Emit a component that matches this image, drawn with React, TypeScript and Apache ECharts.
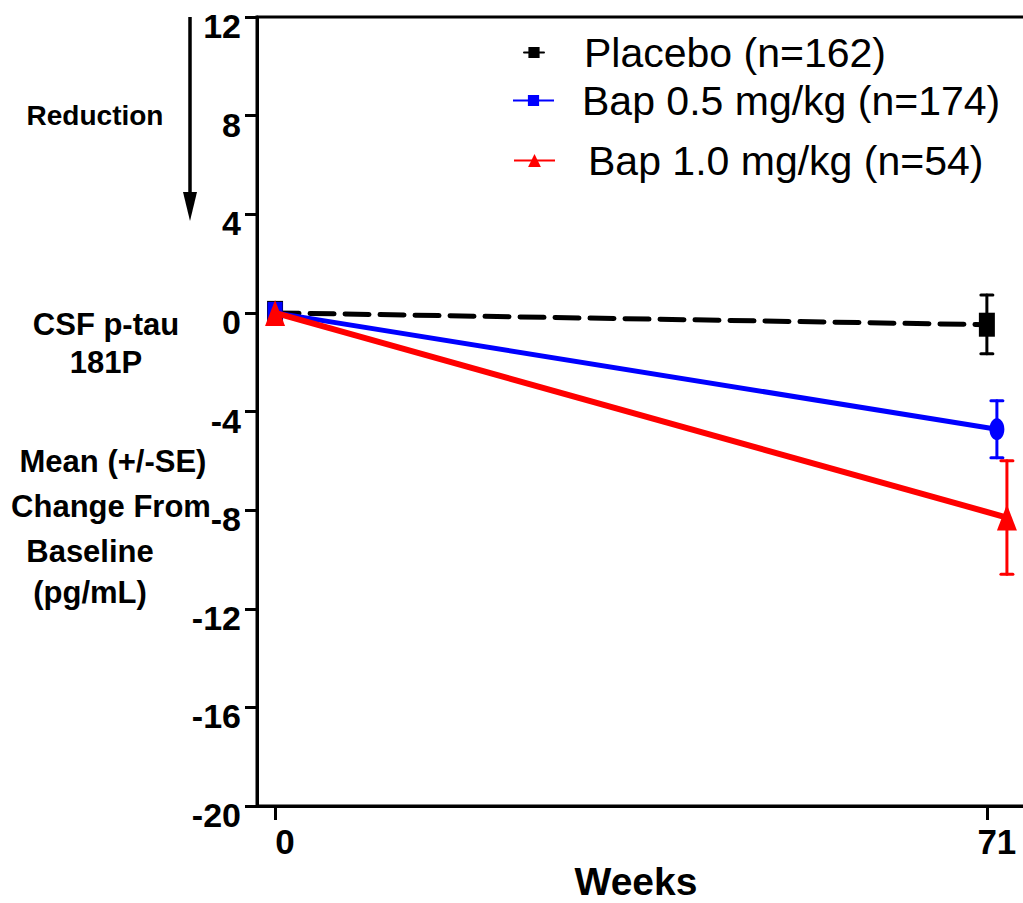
import React, { useEffect, useRef } from "react";
import * as echarts from "echarts";

// ---- data ----
const weekTicks = [0, 71];
const yTicks = { min: -20, max: 12, interval: 4 };

const placeboName = "Placebo (n=162)";
const bap05Name = "Bap 0.5 mg/kg (n=174)";
const bap10Name = "Bap 1.0 mg/kg (n=54)";

// [week, mean change]
const placeboMean: [number, number][] = [[0, 0], [71, -0.48]];
const bap05Mean: [number, number][] = [[0, 0], [72, -4.72]];
const bap10Mean: [number, number][] = [[0, 0], [73, -8.3]];

// [week, low, high]  (mean +/- SE)
const placeboSE: [number, number, number][] = [[71, -1.66, 0.73]];
const bap05SE: [number, number, number][] = [[72, -5.88, -3.56]];
const bap10SE: [number, number, number][] = [[73, -10.6, -6.0]];

const FONT = "'Liberation Sans', Arial, Helvetica, sans-serif";

function errorSeries(name: string, data: [number, number, number][], color: string) {
  return {
    type: "custom",
    name,
    data,
    z: 1,
    renderItem: (params: any, api: any) => {
      const x = api.value(0);
      const lo = api.coord([x, api.value(1)]);
      const hi = api.coord([x, api.value(2)]);
      const hw = 6;
      const style = { stroke: color, lineWidth: 3, lineCap: "round" };
      return {
        type: "group",
        children: [
          { type: "line", shape: { x1: lo[0], y1: lo[1], x2: hi[0], y2: hi[1] }, style },
          { type: "line", shape: { x1: lo[0] - hw, y1: lo[1], x2: lo[0] + hw, y2: lo[1] }, style },
          { type: "line", shape: { x1: hi[0] - hw, y1: hi[1], x2: hi[0] + hw, y2: hi[1] }, style },
        ],
      };
    },
  };
}

export default function App() {
  const ref = useRef<HTMLDivElement>(null);
  useEffect(() => {
    if (!ref.current) return;
    const chart = echarts.init(ref.current, undefined, { renderer: "svg" });
    const boldText = { fontFamily: FONT, fontWeight: "bold", fill: "#000" };
    const legendText = (pad: number) => ({
      fontFamily: FONT,
      fontSize: 41,
      color: "#000",
      padding: [0, 0, 0, pad],
    });
    chart.setOption({
      animation: false,
      backgroundColor: "#fff",
      grid: {
        left: 257,
        top: 17,
        width: 780,
        bottom: 97,
        containLabel: false,
        outerBoundsMode: "none",
        show: true,
        borderColor: "#000",
        borderWidth: 3,
      },
      legend: [
        {
          data: [placeboName], left: 518, top: 27, itemWidth: 20, itemHeight: 14,
          textStyle: legendText(35),
        },
        {
          data: [bap05Name], left: 507, top: 75, itemWidth: 41, itemHeight: 14,
          textStyle: legendText(23),
        },
        {
          data: [bap10Name], left: 508, top: 135, itemWidth: 41, itemHeight: 16,
          textStyle: legendText(28),
        },
      ],
      xAxis: {
        type: "value",
        min: -1.8,
        max: 76,
        splitLine: { show: false },
        axisLine: { show: true, onZero: false, lineStyle: { color: "#000", width: 3 } },
        axisTick: {
          show: true,
          customValues: weekTicks,
          length: 14,
          lineStyle: { color: "#000", width: 3 },
        },
        axisLabel: {
          customValues: weekTicks,
          margin: 18,
          fontFamily: FONT,
          fontWeight: "bold",
          fontSize: 35,
          color: "#000",
          padding: [0, 0, 0, 20],
          formatter: (v: number) => String(v),
        },
      },
      yAxis: {
        type: "value",
        min: yTicks.min,
        max: yTicks.max,
        interval: yTicks.interval,
        splitLine: { show: false },
        axisLine: { show: true, onZero: false, lineStyle: { color: "#000", width: 3 } },
        axisTick: { show: true, length: 12, lineStyle: { color: "#000", width: 3 } },
        axisLabel: {
          margin: 16,
          fontFamily: FONT,
          fontWeight: "bold",
          fontSize: 34,
          lineHeight: 18,
          verticalAlign: "top",
          color: "#000",
        },
      },
      graphic: [
        { type: "text", x: 95, y: 115, style: { ...boldText, text: "Reduction", fontSize: 28, align: "center", verticalAlign: "middle" } },
        { type: "line", shape: { x1: 190, y1: 17, x2: 190, y2: 200 }, style: { stroke: "#000", lineWidth: 3.5 } },
        { type: "polygon", shape: { points: [[183, 192], [197, 192], [190, 221]] }, style: { fill: "#000" } },
        { type: "text", x: 106, y: 324, style: { ...boldText, text: "CSF p-tau", fontSize: 31, align: "center", verticalAlign: "middle" } },
        { type: "text", x: 106, y: 362, style: { ...boldText, text: "181P", fontSize: 31, align: "center", verticalAlign: "middle" } },
        { type: "text", x: 113, y: 461, style: { ...boldText, text: "Mean (+/-SE)", fontSize: 31, align: "center", verticalAlign: "middle" } },
        { type: "text", x: 111, y: 506, style: { ...boldText, text: "Change From", fontSize: 31, align: "center", verticalAlign: "middle" } },
        { type: "text", x: 90, y: 551, style: { ...boldText, text: "Baseline", fontSize: 31, align: "center", verticalAlign: "middle" } },
        { type: "text", x: 90, y: 592, style: { ...boldText, text: "(pg/mL)", fontSize: 31, align: "center", verticalAlign: "middle" } },
        { type: "text", x: 636, y: 881, style: { ...boldText, text: "Weeks", fontSize: 39, align: "center", verticalAlign: "middle" } },
      ],
      series: [
        errorSeries("Placebo SE", placeboSE, "#000"),
        errorSeries("Bap 0.5 SE", bap05SE, "#0000ff"),
        errorSeries("Bap 1.0 SE", bap10SE, "#ff0000"),
        {
          type: "line",
          name: placeboName,
          data: placeboMean,
          z: 3,
          symbol: "rect",
          symbolSize: [16, 24],
          itemStyle: { color: "#000" },
          lineStyle: { color: "#000", width: 5, type: [24, 11], cap: "round" },
        },
        {
          type: "line",
          name: bap05Name,
          data: [
            { value: bap05Mean[0], symbol: "rect" },
            { value: bap05Mean[1], symbol: "circle" },
          ],
          z: 4,
          symbol: "rect",
          symbolSize: [15, 22],
          itemStyle: { color: "#0000ff" },
          lineStyle: { color: "#0000ff", width: 5 },
        },
        {
          type: "line",
          name: bap10Name,
          data: bap10Mean,
          z: 5,
          symbol: "triangle",
          symbolSize: [20, 26],
          itemStyle: { color: "#ff0000" },
          lineStyle: { color: "#ff0000", width: 6 },
        },
      ],
    });
    return () => chart.dispose();
  }, []);
  return <div ref={ref} style={{ width: 1023, height: 903, position: "absolute", left: 0, top: 0 }} />;
}
